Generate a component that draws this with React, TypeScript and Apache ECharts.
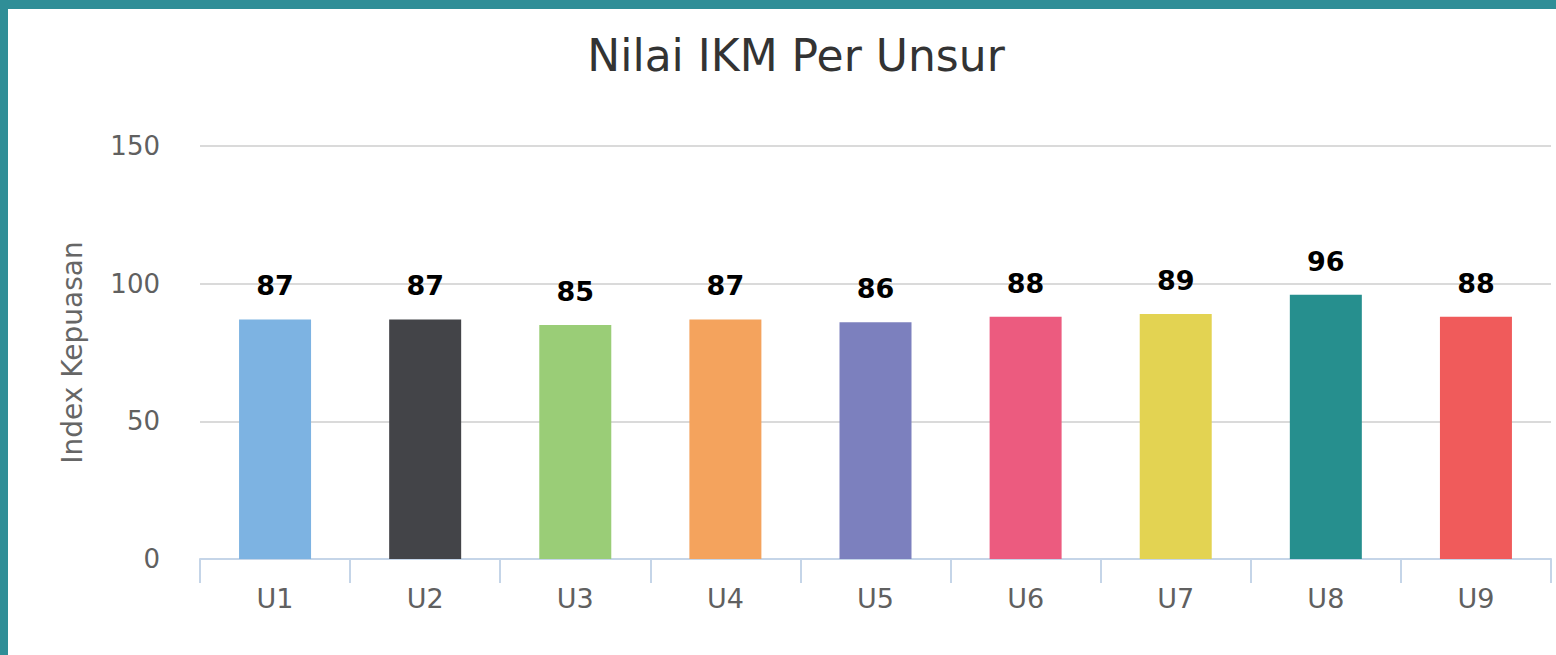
import React, { useEffect, useRef } from "react";
import * as echarts from "echarts";

const categories = ["U1", "U2", "U3", "U4", "U5", "U6", "U7", "U8", "U9"];
const values = [87, 87, 85, 87, 86, 88, 89, 96, 88];
const barColors = ["#7DB3E2", "#434448", "#9ACD77", "#F4A35D", "#7C80BE", "#EC5B7F", "#E3D352", "#268F8E", "#F05B5B"];
const yTicks = { min: 0, max: 150, interval: 50 };
const titleText = "Nilai IKM Per Unsur";
const yAxisName = "Index Kepuasan";

const FONT = "DejaVu Sans";

export default function App() {
  const ref = useRef<HTMLDivElement>(null);
  useEffect(() => {
    document.body.style.margin = "0";
    const chart = echarts.init(ref.current!, null, { renderer: "svg" });
    chart.setOption({
      animation: false,
      backgroundColor: "#ffffff",
      textStyle: { fontFamily: FONT },
      title: {
        text: titleText,
        left: 791,
        textAlign: "center",
        top: 28,
        textStyle: { fontSize: 44, fontWeight: "normal", color: "#333333", fontFamily: FONT },
      },
      graphic: [
        { type: "rect", shape: { x: 0, y: 0, width: 1556, height: 9 }, style: { fill: "#2F8E97" }, z: 100 },
        { type: "rect", shape: { x: 0, y: 0, width: 8, height: 655 }, style: { fill: "#2F8E97" }, z: 100 },
      ],
      grid: { left: 200, right: 5, top: 146, bottom: 96, containLabel: false },
      xAxis: {
        type: "category",
        data: categories,
        axisLine: { lineStyle: { color: "#C5D5E8", width: 2 } },
        axisTick: { show: true, length: 24, alignWithLabel: false, lineStyle: { color: "#C5D5E8", width: 2 } },
        axisLabel: { fontSize: 27, color: "#606060", margin: 26, fontFamily: FONT },
      },
      yAxis: {
        type: "value",
        min: yTicks.min,
        max: yTicks.max,
        interval: yTicks.interval,
        name: yAxisName,
        nameLocation: "middle",
        nameRotate: 90,
        nameGap: 114,
        nameTextStyle: { fontSize: 28, color: "#666666", fontFamily: FONT },
        axisLine: { show: false },
        axisTick: { show: false },
        axisLabel: { fontSize: 26, color: "#606060", margin: 40, fontFamily: FONT },
        splitLine: { lineStyle: { color: "#DADADA", width: 2 } },
      },
      series: [
        {
          type: "bar",
          barWidth: 72,
          data: values.map((v, i) => ({ value: v, itemStyle: { color: barColors[i] } })),
          label: {
            show: true,
            position: "top",
            distance: 20,
            fontSize: 27,
            fontWeight: "bold",
            color: "#000000",
            fontFamily: FONT,
          },
        },
      ],
    });
    return () => chart.dispose();
  }, []);
  return <div ref={ref} style={{ width: 1556, height: 655 }} />;
}
